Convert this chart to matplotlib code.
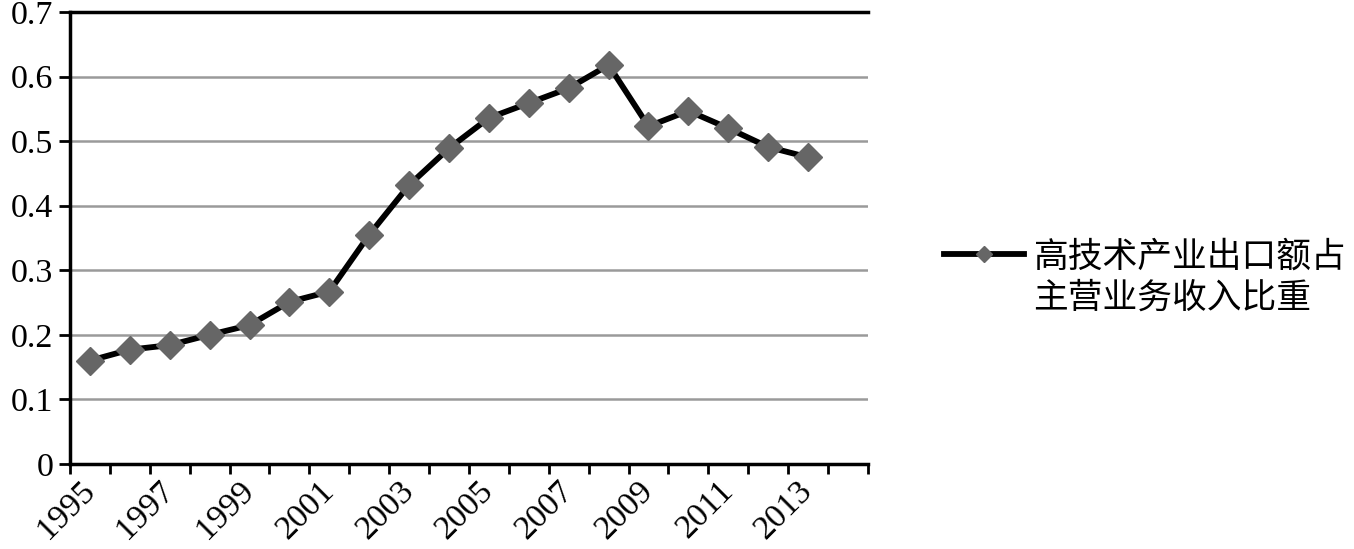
import matplotlib
matplotlib.use("Agg")
import matplotlib.pyplot as plt
import matplotlib.transforms as mtransforms
import numpy as np

# share of high-tech industry exports in main business revenue
years = list(range(1995, 2014))
share = [0.160, 0.177, 0.184, 0.200, 0.215, 0.251, 0.267, 0.355, 0.432, 0.489,
         0.536, 0.559, 0.582, 0.618, 0.523, 0.547, 0.520, 0.491, 0.475]
n_slots = 20  # one empty category slot after 2013, as in the source
label_lines = ["高技术产业出口额占", "主营业务收入比重"]

plt.rcParams["font.family"] = ["Liberation Serif", "Noto Sans CJK SC"]

fig = plt.figure(figsize=(13.54, 5.49), dpi=100)
ax = fig.add_axes([0.0517, 0.155, 0.641 - 0.0517, 0.978 - 0.155])

x = np.arange(len(years))
ax.plot(x, share, color="black", lw=4.2, marker="D", ms=14,
        mfc="#666666", mec="#666666", label=label_lines[0], zorder=3)

ax.set_xlim(-0.5, n_slots - 0.5)
ax.set_ylim(0, 0.7)
ax.set_yticks(np.arange(0, 0.71, 0.1))
ax.set_yticklabels(["0"] + [f"{v:.1f}" for v in np.arange(0.1, 0.71, 0.1)])
ax.yaxis.grid(True, color="#9a9a9a", lw=1.8)
ax.set_axisbelow(True)

# category boundaries get tick marks, labels sit on every other category
ax.set_xticks(np.arange(-0.5, n_slots, 1.0))
ax.set_xticklabels([])
ax.set_xticks(x[::2], minor=True)
ax.set_xticklabels([str(y) for y in years[::2]], minor=True, rotation=45,
                   ha="right", va="center", rotation_mode="anchor")
shift = mtransforms.ScaledTranslation(9 / 100, -2 / 100, fig.dpi_scale_trans)
for lbl in ax.get_xticklabels(minor=True):
    lbl.set_transform(lbl.get_transform() + shift)
ax.tick_params(axis="x", which="minor", length=0, pad=16, labelsize=24.5)
ax.tick_params(axis="x", which="major", direction="out", length=7, width=2)
ax.tick_params(axis="y", direction="out", length=8, width=2, labelsize=24.5, pad=4)

for side in ("left", "bottom", "top"):
    ax.spines[side].set_linewidth(2.5)
    ax.spines[side].set_color("black")
ax.spines["right"].set_visible(False)

# legend: handle next to the first line, second line wrapped underneath
fig.legend(loc="center left", bbox_to_anchor=(0.697, 1 - 258 / 549), frameon=False,
           fontsize=25, handlelength=2.3, handletextpad=0.3, borderpad=0,
           borderaxespad=0, markerscale=0.55)
fig.text(1033 / 1354, 1 - 299 / 549, label_lines[1], fontsize=25, va="center",
         ha="left")

fig.savefig("out.png", dpi=100)
